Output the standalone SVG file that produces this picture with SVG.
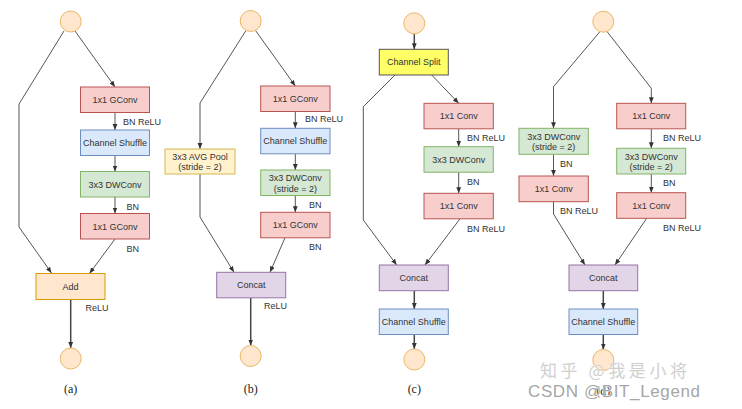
<svg xmlns="http://www.w3.org/2000/svg" width="742" height="409" viewBox="0 0 742 409">
<defs>
<marker id="ah" markerUnits="userSpaceOnUse" markerWidth="6" markerHeight="6" refX="6" refY="3" orient="auto">
<path d="M0,0.6 L6,3 L0,5.4 z" fill="#333"/>
</marker>
<style>
.bx{stroke-width:1}
.red{fill:#f8cecc;stroke:#b85450}
.blue{fill:#dae8fc;stroke:#6c8ebf}
.green{fill:#d5e8d4;stroke:#82b366}
.orange{fill:#ffe6cc;stroke:#d79b00}
.yel{fill:#fff2cc;stroke:#d6b656}
.split{fill:#ffff66;stroke:#555}
.purp{fill:#e1d5e7;stroke:#9673a6}
.circ{fill:#ffe6cc;stroke:#e8b866;stroke-width:1}
.t{font-family:"Liberation Sans",Arial,sans-serif;font-size:9px;fill:#333;text-anchor:middle}
.l{font-family:"Liberation Sans",Arial,sans-serif;font-size:9px;fill:#333}
.cap{font-family:"Liberation Serif","Times New Roman",serif;font-size:12px;fill:#222;text-anchor:middle}
.c{fill:none;stroke:#555;stroke-width:1}
.cb{fill:none;stroke:#444;stroke-width:1.5}
</style>
</defs>
<rect width="742" height="409" fill="#fff"/>

<g id="connectors">
<!-- (a) -->
<polyline class="c" points="64,31 19,104 19,227 51.5,273" marker-end="url(#ah)"/>
<line class="c" x1="75" y1="31" x2="115" y2="87" marker-end="url(#ah)"/>
<line class="c" x1="115" y1="112.5" x2="115" y2="130" marker-end="url(#ah)"/>
<line class="c" x1="115" y1="155.5" x2="115" y2="171.5" marker-end="url(#ah)"/>
<line class="c" x1="115" y1="197" x2="115" y2="213.5" marker-end="url(#ah)"/>
<line class="c" x1="115" y1="239" x2="89.5" y2="273.5" marker-end="url(#ah)"/>
<line class="cb" x1="70.7" y1="299.5" x2="70.7" y2="348" marker-end="url(#ah)"/>
<!-- (b) -->
<polyline class="c" points="246,30.5 200,103 200,149" marker-end="url(#ah)"/>
<polyline class="c" points="200,174 200,217 234,272.3" marker-end="url(#ah)"/>
<line class="c" x1="255.5" y1="30.5" x2="295.3" y2="86" marker-end="url(#ah)"/>
<line class="c" x1="295.3" y1="111.5" x2="295.3" y2="128.3" marker-end="url(#ah)"/>
<line class="c" x1="295.3" y1="153.8" x2="295.3" y2="170" marker-end="url(#ah)"/>
<line class="c" x1="295.3" y1="195.5" x2="295.3" y2="212.3" marker-end="url(#ah)"/>
<line class="c" x1="285" y1="237.8" x2="270" y2="272.3" marker-end="url(#ah)"/>
<line class="cb" x1="250.7" y1="297.8" x2="250.7" y2="345.5" marker-end="url(#ah)"/>
<!-- (c) -->
<line class="cb" x1="414.3" y1="33.8" x2="414.3" y2="49.3" marker-end="url(#ah)"/>
<polyline class="c" points="395,75 363.3,106.7 363.3,220 396.7,265" marker-end="url(#ah)"/>
<line class="c" x1="431.7" y1="75" x2="458.7" y2="103.3" marker-end="url(#ah)"/>
<line class="c" x1="458.7" y1="128.8" x2="458.7" y2="146.7" marker-end="url(#ah)"/>
<line class="c" x1="458.7" y1="172.2" x2="458.7" y2="193.3" marker-end="url(#ah)"/>
<line class="c" x1="460" y1="218.8" x2="425" y2="265" marker-end="url(#ah)"/>
<line class="cb" x1="414.3" y1="290.7" x2="414.3" y2="309" marker-end="url(#ah)"/>
<line class="cb" x1="414.3" y1="334.5" x2="414.3" y2="349" marker-end="url(#ah)"/>
<!-- (d) -->
<polyline class="c" points="600,31.5 553.5,86.7 553.5,128.3" marker-end="url(#ah)"/>
<polyline class="c" points="607,31.5 651.3,88.3 651.3,103.3" marker-end="url(#ah)"/>
<line class="c" x1="553.5" y1="154.3" x2="553.5" y2="176" marker-end="url(#ah)"/>
<polyline class="c" points="553.5,201.7 553.5,214 585,265" marker-end="url(#ah)"/>
<line class="c" x1="651.3" y1="128.8" x2="651.3" y2="148.3" marker-end="url(#ah)"/>
<line class="c" x1="651.3" y1="174" x2="651.3" y2="192.7" marker-end="url(#ah)"/>
<line class="c" x1="646.7" y1="218.3" x2="615" y2="265" marker-end="url(#ah)"/>
<line class="cb" x1="603.3" y1="290.7" x2="603.3" y2="309" marker-end="url(#ah)"/>
<line class="cb" x1="603.3" y1="334.5" x2="603.3" y2="349.5" marker-end="url(#ah)"/>
</g>

<!-- (a) nodes -->
<g id="a-in"><circle class="circ" cx="70.7" cy="21.5" r="10.5"/></g>
<g id="a-gconv1"><rect class="bx red" x="80.5" y="87" width="69" height="25.5"/><text class="t" x="115" y="103">1x1 GConv</text></g>
<g id="a-shuffle"><rect class="bx blue" x="80.5" y="130" width="69" height="25.5"/><text class="t" x="115" y="146">Channel Shuffle</text></g>
<g id="a-dwconv"><rect class="bx green" x="80.5" y="171.5" width="69" height="25.5"/><text class="t" x="115" y="187.5">3x3 DWConv</text></g>
<g id="a-gconv2"><rect class="bx red" x="80.5" y="213.5" width="69" height="25.5"/><text class="t" x="115" y="229.5">1x1 GConv</text></g>
<g id="a-add"><rect class="bx orange" x="36" y="273.5" width="69" height="26"/><text class="t" x="70.5" y="289.8">Add</text></g>
<g id="a-out"><circle class="circ" cx="70.7" cy="358.5" r="10.5"/></g>
<g id="a-labels">
<text class="l" x="123" y="124.7">BN ReLU</text>
<text class="l" x="126.5" y="210">BN</text>
<text class="l" x="126.5" y="252">BN</text>
<text class="l" x="85.5" y="311">ReLU</text>
<text class="cap" x="70.7" y="393">(a)</text>
</g>

<!-- (b) nodes -->
<g id="b-in"><circle class="circ" cx="250.7" cy="21" r="10.5"/></g>
<g id="b-gconv1"><rect class="bx red" x="260.7" y="86" width="69.3" height="25.5"/><text class="t" x="295.3" y="102">1x1 GConv</text></g>
<g id="b-shuffle"><rect class="bx blue" x="260.7" y="128.3" width="69.3" height="25.5"/><text class="t" x="295.3" y="144.3">Channel Shuffle</text></g>
<g id="b-dwconv"><rect class="bx green" x="260.7" y="170" width="69.3" height="25.5"/><text class="t" x="295.3" y="181.2">3x3 DWConv</text><text class="t" x="295.3" y="191.5">(stride = 2)</text></g>
<g id="b-gconv2"><rect class="bx red" x="260.7" y="212.3" width="69.3" height="25.5"/><text class="t" x="295.3" y="228.3">1x1 GConv</text></g>
<g id="b-avgpool"><rect class="bx yel" x="165" y="149" width="70" height="25"/><text class="t" x="200" y="159.8">3x3 AVG Pool</text><text class="t" x="200" y="170">(stride = 2)</text></g>
<g id="b-concat"><rect class="bx purp" x="216.7" y="272.3" width="69" height="25.5"/><text class="t" x="251.2" y="288.3">Concat</text></g>
<g id="b-out"><circle class="circ" cx="250.7" cy="356" r="10.5"/></g>
<g id="b-labels">
<text class="l" x="305" y="121.5">BN ReLU</text>
<text class="l" x="309" y="208">BN</text>
<text class="l" x="309" y="250">BN</text>
<text class="l" x="264" y="309">ReLU</text>
<text class="cap" x="250.7" y="393">(b)</text>
</g>

<!-- (c) nodes -->
<g id="c-in"><circle class="circ" cx="414.3" cy="23.3" r="10.5"/></g>
<g id="c-split"><rect class="bx split" x="379.3" y="49.3" width="69" height="25.7"/><text class="t" x="413.8" y="65.4">Channel Split</text></g>
<g id="c-conv1"><rect class="bx red" x="424" y="103.3" width="69.3" height="25.5"/><text class="t" x="458.7" y="119.3">1x1 Conv</text></g>
<g id="c-dwconv"><rect class="bx green" x="424" y="146.7" width="69.3" height="25.5"/><text class="t" x="458.7" y="162.7">3x3 DWConv</text></g>
<g id="c-conv2"><rect class="bx red" x="424" y="193.3" width="69.3" height="25.5"/><text class="t" x="458.7" y="209.3">1x1 Conv</text></g>
<g id="c-concat"><rect class="bx purp" x="379.3" y="265" width="69" height="25.7"/><text class="t" x="413.8" y="281">Concat</text></g>
<g id="c-shuffle"><rect class="bx blue" x="379.3" y="309" width="69" height="25.5"/><text class="t" x="413.8" y="325">Channel Shuffle</text></g>
<g id="c-out"><circle class="circ" cx="414.3" cy="359.5" r="10.5"/></g>
<g id="c-labels">
<text class="l" x="467" y="140.5">BN ReLU</text>
<text class="l" x="467" y="185">BN</text>
<text class="l" x="467" y="231.5">BN ReLU</text>
<text class="cap" x="414.3" y="393">(c)</text>
</g>

<!-- (d) nodes -->
<g id="d-in"><circle class="circ" cx="603.3" cy="21.7" r="10.5"/></g>
<g id="d-ldwconv"><rect class="bx green" x="519" y="128.3" width="69.3" height="26"/><text class="t" x="553.7" y="139.5">3x3 DWConv</text><text class="t" x="553.7" y="149.8">(stride = 2)</text></g>
<g id="d-lconv"><rect class="bx red" x="519" y="176" width="69.3" height="25.7"/><text class="t" x="553.7" y="192">1x1 Conv</text></g>
<g id="d-rconv1"><rect class="bx red" x="616.7" y="103.3" width="69" height="25.5"/><text class="t" x="651.2" y="119.3">1x1 Conv</text></g>
<g id="d-rdwconv"><rect class="bx green" x="616.7" y="148.3" width="69" height="25.7"/><text class="t" x="651.2" y="159.5">3x3 DWConv</text><text class="t" x="651.2" y="169.8">(stride = 2)</text></g>
<g id="d-rconv2"><rect class="bx red" x="616.7" y="192.7" width="69" height="25.6"/><text class="t" x="651.2" y="208.7">1x1 Conv</text></g>
<g id="d-concat"><rect class="bx purp" x="569" y="265" width="68.7" height="25.7"/><text class="t" x="603.3" y="281">Concat</text></g>
<g id="d-shuffle"><rect class="bx blue" x="569" y="309" width="68.7" height="25.5"/><text class="t" x="603.3" y="325">Channel Shuffle</text></g>
<g id="d-out"><circle class="circ" cx="603.3" cy="360" r="10.5"/></g>
<g id="d-labels">
<text class="l" x="560" y="167">BN</text>
<text class="l" x="560" y="214">BN ReLU</text>
<text class="l" x="663" y="141">BN ReLU</text>
<text class="l" x="663" y="186">BN</text>
<text class="l" x="663" y="231">BN ReLU</text>
<text class="cap" x="603.3" y="395">(d)</text>
</g>

<g id="watermark">
<text x="540" y="377" textLength="147" font-family="'Noto Sans CJK SC','Liberation Sans',sans-serif" font-size="17" fill="#cfcfcf" stroke="#fff" stroke-width="0.6" paint-order="stroke">知乎 @我是小将</text>
<text x="528" y="397" textLength="172" font-family="'Liberation Sans',Arial,sans-serif" font-size="17" fill="#a6a6a6" stroke="#fff" stroke-width="0.8" paint-order="stroke">CSDN @BIT_Legend</text>
</g>
</svg>
